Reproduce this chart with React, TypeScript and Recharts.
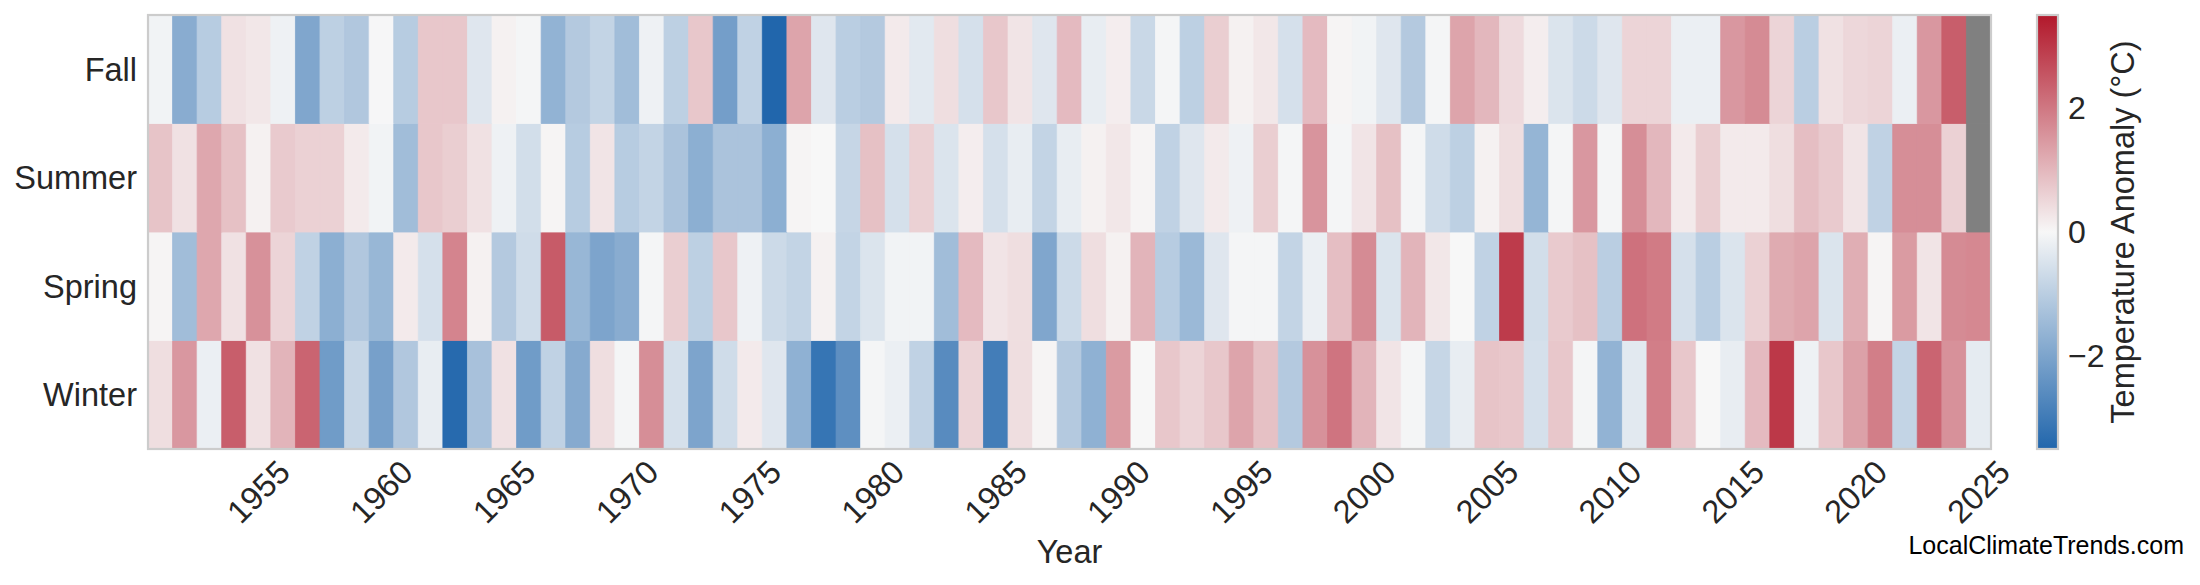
import { BarChart, Bar, XAxis, YAxis, Cell } from "recharts";

// seasonal temperature anomalies (°C), 1951–2025
const years = [
  1951, 1952, 1953, 1954, 1955, 1956, 1957, 1958, 1959, 1960,
  1961, 1962, 1963, 1964, 1965, 1966, 1967, 1968, 1969, 1970,
  1971, 1972, 1973, 1974, 1975, 1976, 1977, 1978, 1979, 1980,
  1981, 1982, 1983, 1984, 1985, 1986, 1987, 1988, 1989, 1990,
  1991, 1992, 1993, 1994, 1995, 1996, 1997, 1998, 1999, 2000,
  2001, 2002, 2003, 2004, 2005, 2006, 2007, 2008, 2009, 2010,
  2011, 2012, 2013, 2014, 2015, 2016, 2017, 2018, 2019, 2020,
  2021, 2022, 2023, 2024, 2025,
];

const winter = [
  0.4, 1.5, -0.2, 2.4, 0.35, 1.05, 2.3, -2.2, -0.8, -2.1,
  -1.15, -0.25, -3.4, -1.3, 0.35, -2.2, -0.9, -1.85, 0.4, -0.05,
  1.65, -0.55, -2.0, -0.65, 0.2, -0.4, -1.7, -3.15, -2.5, -0.05,
  -0.2, -0.9, -2.6, 0.55, -2.95, 0.4, 0.05, -1.1, -1.7, 1.45,
  0.0, 0.75, 0.55, 0.75, 1.3, 0.85, -1.1, 1.6, 2.05, 1.05,
  0.3, -0.05, -0.8, -0.25, 0.8, 0.75, -0.55, 0.75, -0.05, -1.65,
  -0.35, 1.9, 0.75, 0.0, -0.25, 0.95, 3.0, -0.15, 0.75, 1.35,
  1.9, -0.85, 2.3, 1.6, -0.3,
];

const spring = [
  0.05, -1.4, 1.25, 0.35, 1.6, 0.55, -0.9, -1.75, -1.15, -1.55,
  0.2, -0.55, 1.8, 0.1, -1.1, -0.65, 2.45, -1.55, -2.0, -1.8,
  -0.05, 0.65, -0.95, 0.75, -0.15, -0.7, -0.85, 0.1, -0.85, -0.45,
  -0.1, -0.1, -1.4, 0.95, 0.3, 0.4, -1.95, -0.7, 0.4, 0.1,
  1.05, -1.05, -1.5, -0.4, -0.05, -0.05, -0.85, -0.2, 0.9, 1.7,
  -0.45, 1.05, 0.25, 0.0, -0.9, 2.95, -0.6, 0.7, 0.85, -1.0,
  2.1, 1.95, -0.55, -1.0, -0.45, 0.6, 1.2, 1.3, -0.45, 1.15,
  0.05, 1.45, 0.3, 1.7, 1.75,
];

const summer = [
  0.8, 0.35, 1.25, 0.85, 0.1, 0.7, 0.6, 0.6, 0.2, -0.1,
  -1.4, 0.75, 0.65, 0.35, -0.15, -0.6, 0.05, -1.05, 0.3, -1.05,
  -0.85, -1.25, -1.75, -1.25, -1.25, -1.75, 0.05, 0.0, -0.8, 0.85,
  -0.55, 0.6, -0.45, 0.15, -0.55, -0.25, -0.85, -0.25, 0.1, 0.25,
  0.05, -0.9, -0.4, 0.2, -0.15, 0.65, -0.05, 1.55, -0.05, 0.3,
  0.85, -0.05, -0.65, -0.95, 0.1, 0.4, -1.6, -0.05, 1.5, -0.05,
  1.65, 1.0, 0.2, 0.65, 0.2, 0.2, 0.4, 0.9, 0.7, 0.3,
  -0.9, 1.65, 1.65, 0.6, null,
];

const fall = [
  -0.1, -1.8, -1.05, 0.35, 0.25, -0.15, -1.95, -0.95, -1.15, -0.02,
  -1.05, 0.75, 0.75, -0.4, 0.1, -0.05, -1.65, -1.1, -0.85, -1.4,
  -0.15, -0.95, 0.75, -2.15, -0.9, -3.5, 1.3, -0.4, -1.0, -1.1,
  0.2, -0.35, 0.4, -0.55, 0.75, 0.3, -0.4, 0.95, -0.25, 0.15,
  -0.75, -0.05, -0.95, 0.65, 0.1, 0.25, -0.55, 0.95, 0.05, -0.1,
  -0.4, -1.1, -0.05, 1.3, 1.0, 0.45, 0.15, -0.45, -0.7, -0.4,
  0.55, 0.55, -0.2, -0.2, 1.5, 1.7, 0.55, -1.0, 0.35, 0.5,
  0.55, -0.2, 1.5, 2.4, null,
];

const seasons = ["Winter", "Spring", "Summer", "Fall"];
const seasonTicks = [0.5, 1.5, 2.5, 3.5];
const yearTicks = [1955, 1960, 1965, 1970, 1975, 1980, 1985, 1990, 1995, 2000, 2005, 2010, 2015, 2020, 2025];
const colorTicks = [-2, 0, 2];

const VMAX = 3.5;
const FONT = "'Liberation Sans', Arial, Helvetica, sans-serif";
const TEXT = "#262626";

const W = 2200;
const H = 585;
const PLOT = { left: 148, top: 15, right: 1991, bottom: 449 };
const CBAR = { x: 2037, w: 21 };

const series: Record<string, (number | null)[]> = {
  Winter: winter,
  Spring: spring,
  Summer: summer,
  Fall: fall,
};

// every cell is one unit tall; colour carries the anomaly
const data = years.map((year) => ({ year, Winter: 1, Spring: 1, Summer: 1, Fall: 1 }));

function anomalyColor(v: number | null) {
  if (v == null) return "#808080";
  const t = Math.max(-1, Math.min(1, v / VMAX));
  const mid = [247, 247, 247];
  const end = t > 0 ? [178, 24, 43] : [33, 102, 172];
  const a = Math.abs(t);
  const c = mid.map((m, i) => Math.round(m + (end[i] - m) * a));
  return `rgb(${c[0]},${c[1]},${c[2]})`;
}

function YearTick({ x, y, payload }: any) {
  if (!yearTicks.includes(payload.value)) return <g />;
  return (
    <text
      x={x}
      y={y}
      transform={`rotate(-45, ${x}, ${y})`}
      textAnchor="middle"
      dominantBaseline="central"
      fontSize={32.5}
      fontFamily={FONT}
      fill={TEXT}
    >
      {payload.value}
    </text>
  );
}

function Colorbar() {
  const h = PLOT.bottom - PLOT.top;
  const yOf = (v: number) => PLOT.top + ((VMAX - v) / (2 * VMAX)) * h;
  return (
    <svg
      width={W}
      height={H}
      style={{ position: "absolute", left: 0, top: 0, pointerEvents: "none" }}
    >
      <defs>
        <linearGradient id="cbar" x1="0" y1="0" x2="0" y2="1">
          <stop offset="0" stopColor="#b2182b" />
          <stop offset="0.5" stopColor="#f7f7f7" />
          <stop offset="1" stopColor="#2166ac" />
        </linearGradient>
      </defs>
      <rect
        x={PLOT.left}
        y={PLOT.top}
        width={PLOT.right - PLOT.left}
        height={h}
        fill="none"
        stroke="#cccccc"
        strokeWidth={2.2}
      />
      <rect x={CBAR.x} y={PLOT.top} width={CBAR.w} height={h} fill="url(#cbar)" stroke="#cccccc" strokeWidth={2.2} />
      {colorTicks.map((v) => (
        <text
          key={v}
          x={CBAR.x + CBAR.w + 10}
          y={yOf(v)}
          dominantBaseline="central"
          fontSize={32}
          fontFamily={FONT}
          fill={TEXT}
        >
          {v < 0 ? `\u2212${Math.abs(v)}` : v}
        </text>
      ))}
      <text
        x={2134}
        y={yOf(0)}
        transform={`rotate(-90, 2134, ${yOf(0)})`}
        textAnchor="middle"
        fontSize={32.5}
        fontFamily={FONT}
        fill={TEXT}
      >
        Temperature Anomaly (°C)
      </text>
      <text x={2184} y={554} textAnchor="end" fontSize={25} fontFamily={FONT} fill="#000">
        LocalClimateTrends.com
      </text>
    </svg>
  );
}

export default function App() {
  return (
    <div style={{ position: "absolute", left: 0, top: 0, width: W, height: H, background: "#fff" }}>
      <BarChart
        width={W}
        height={H}
        data={data}
        margin={{ top: PLOT.top, right: W - PLOT.right, bottom: 6, left: 8 }}
        barCategoryGap={0}
        barGap={0}
        style={{ fontFamily: FONT }}
      >
        <XAxis
          dataKey="year"
          type="category"
          interval={0}
          height={H - PLOT.bottom - 6}
          axisLine={false}
          tickLine={false}
          tickSize={0}
          tickMargin={43}
          tick={<YearTick />}
          label={{ value: "Year", position: "insideBottom", offset: 16, fontSize: 32.5, fill: TEXT, fontFamily: FONT }}
        />
        <YAxis
          type="number"
          domain={[0, 4]}
          ticks={seasonTicks}
          tickFormatter={(v: number) => seasons[Math.floor(v)]}
          width={PLOT.left - 8}
          axisLine={false}
          tickLine={false}
          tickSize={0}
          tickMargin={11}
          tick={{ fontSize: 32.5, fill: TEXT, fontFamily: FONT }}
          allowDataOverflow
        />
        {seasons.map((s) => (
          <Bar key={s} dataKey={s} stackId="cells" isAnimationActive={false}>
            {series[s].map((v, i) => (
              <Cell key={i} fill={anomalyColor(v)} stroke={anomalyColor(v)} strokeWidth={0.8} />
            ))}
          </Bar>
        ))}
      </BarChart>
      <Colorbar />
    </div>
  );
}
